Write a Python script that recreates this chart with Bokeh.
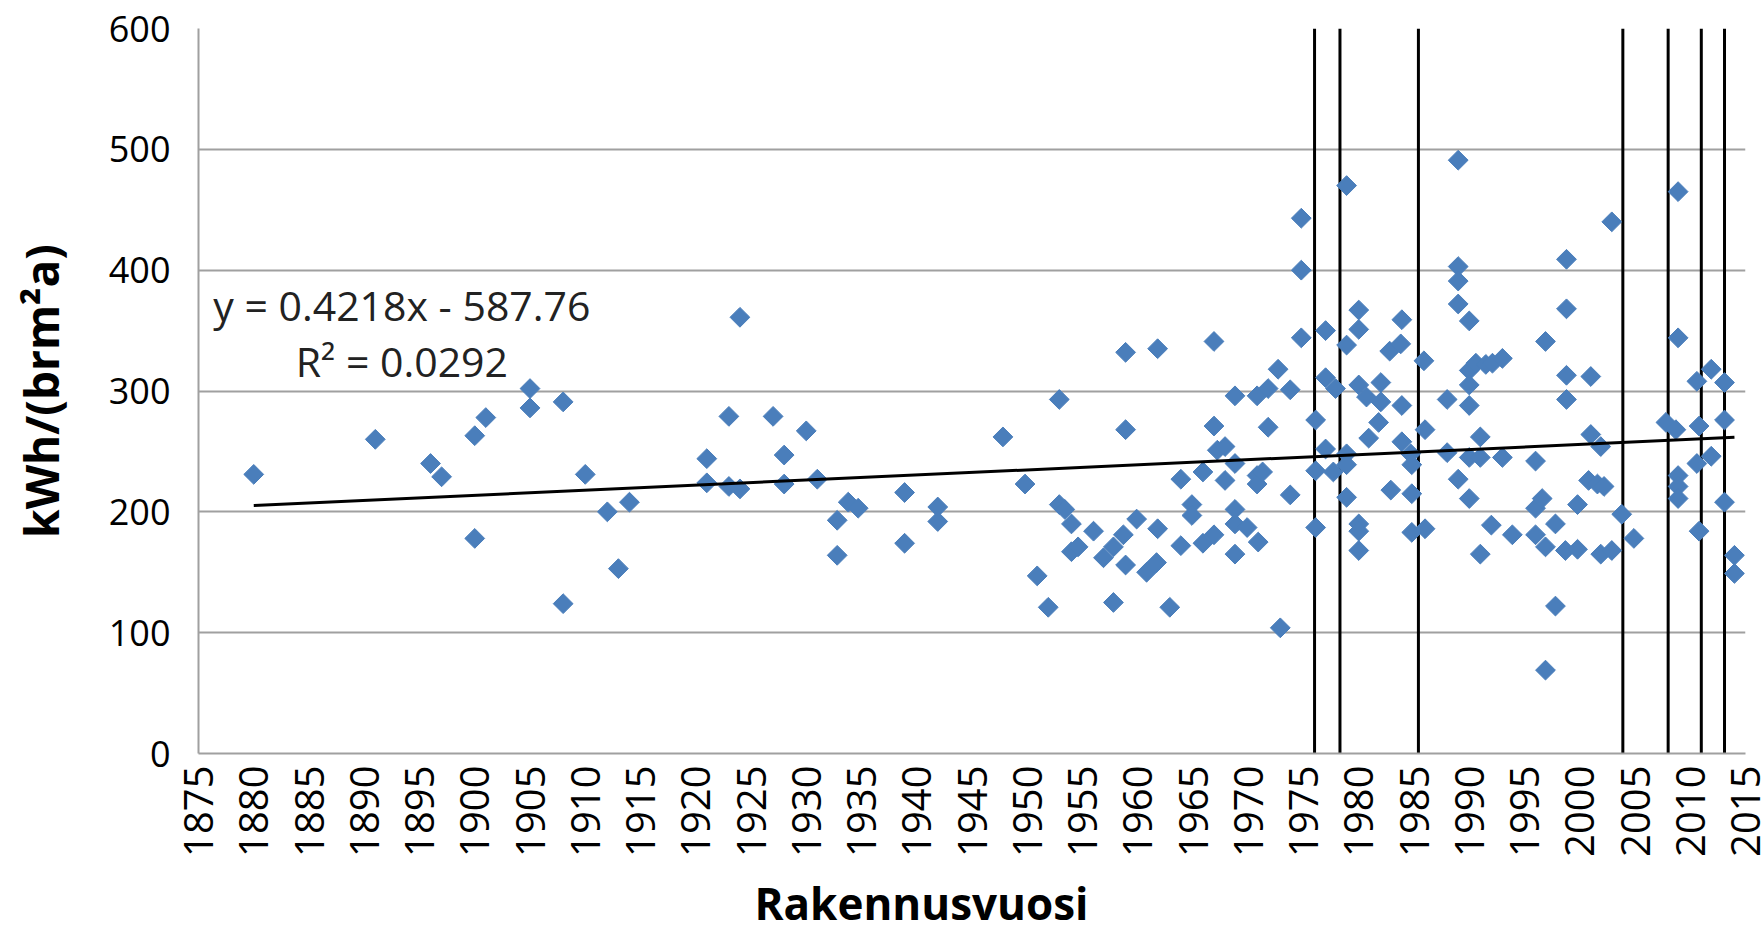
import math
from bokeh.plotting import figure
from bokeh.models import FixedTicker, Label, Range1d, Title
from bokeh.embed import file_html
from bokeh.resources import INLINE

# ---- data ----
build_year = [
    1880, 1891, 1896, 1897, 1900, 1900, 1901, 1905, 1905, 1908, 1908, 1910, 1912, 1913, 1914,
    1921, 1921, 1923, 1923, 1924, 1924, 1927, 1928, 1928, 1930, 1931, 1932.8, 1932.8, 1933.8,
    1934.7, 1938.9, 1938.9, 1941.9, 1941.9, 1947.8, 1949.8, 1950.9, 1951.9, 1952.9, 1952.9,
    1953.4, 1954, 1954, 1954.6,
    1956, 1956.9, 1957.8, 1957.8, 1958.7, 1958.9, 1958.9, 1958.9, 1959.9, 1960.8, 1961.7,
    1961.8, 1961.8, 1962.9, 1963.9, 1963.9, 1964.9, 1964.9, 1965.9, 1965.9, 1966.9, 1966.9,
    1966.9, 1967.2, 1967.9, 1967.9, 1968.8, 1968.8, 1968.8, 1968.8, 1968.8, 1969.9, 1970.8,
    1970.8, 1970.8, 1970.9, 1971.3, 1971.8, 1971.8, 1972.7, 1972.9, 1973.8, 1973.8, 1974.8,
    1974.8, 1974.8,
    1976.1, 1976.1, 1976.1, 1977, 1977, 1977, 1977.7, 1977.9, 1978.9, 1978.9, 1978.9, 1978.9,
    1978.9, 1980, 1980, 1980, 1980, 1980, 1980, 1980.7, 1980.9, 1981.8, 1982, 1982, 1982.8,
    1982.9, 1983.8, 1983.9, 1983.9, 1983.9, 1984.7, 1984.8, 1984.8, 1984.8, 1985.9, 1986, 1986,
    1988, 1988, 1989, 1989, 1989, 1989, 1989, 1990, 1990, 1990, 1990, 1990, 1990, 1990.6,
    1991, 1991, 1991, 1991.5, 1992, 1992.1, 1993, 1993, 1993.9,
    1996, 1996, 1996, 1996.6, 1996.9, 1996.9, 1996.9, 1997.8, 1997.8, 1998.7, 1998.8, 1998.8,
    1998.8, 1998.8, 1999.8, 1999.8, 2000.8, 2001, 2001, 2001.6, 2001.9, 2001.9, 2002.2, 2002.9,
    2002.9, 2003.8, 2004.9, 2007.8, 2008.7, 2008.9, 2008.9, 2008.9, 2008.9, 2008.9, 2010.6,
    2010.6, 2010.8, 2010.8, 2011.9, 2011.9, 2013.1, 2013.1, 2013.1, 2014, 2014,
]
energy_kwh = [
    231, 260, 240, 229, 263, 178, 278, 302, 286, 291, 124, 231, 200, 153, 208,
    244, 224, 279, 221, 361, 219, 279, 247, 223, 267, 227, 193, 164, 208,
    203, 216, 174, 204, 192, 262, 223, 147, 121, 293, 206,
    202, 190, 167, 171,
    184, 162, 171, 125, 181, 156, 332, 268, 194, 150, 158,
    186, 335, 121, 227, 172, 206, 197, 233, 174, 271, 181,
    341, 251, 254, 226, 296, 202, 190, 165, 240, 187, 230,
    223, 296, 175, 233, 302, 270, 318, 104, 301, 214, 443,
    400, 344,
    276, 234, 187, 350, 311, 252, 233, 302, 470, 338, 248, 239,
    212, 367, 351, 305, 190, 184, 168, 295, 261, 274, 307, 291, 333,
    218, 339, 359, 288, 258, 248, 239, 215, 183, 325, 268, 186,
    293, 249, 491, 403, 391, 372, 227, 358, 317, 305, 288, 245, 211, 323,
    262, 245, 165, 322, 189, 323, 327, 245, 181,
    242, 203, 181, 211, 341, 171, 69, 190, 122, 168, 409, 368,
    313, 293, 206, 169, 226, 312, 264, 223, 254, 165, 221, 440,
    168, 198, 178, 274, 268, 465, 344, 230, 221, 211, 308,
    240, 271, 184, 318, 246, 307, 276, 208, 164, 149,
]
trend_x = [1880, 2014]
trend_y = [205.2, 261.7]
regulation_years = [1976, 1978.3, 1985.4, 2003.9, 2008, 2011, 2013.1]
x_ticks = list(range(1875, 2016, 5))
y_ticks = [0, 100, 200, 300, 400, 500, 600]
x_title = "Rakennusvuosi"
y_title = "kWh/(brm\u00b2a)"
equation_text = "y = 0.4218x - 587.76"
r2_text = "R\u00b2 = 0.0292"

FONT = "Open Sans"
GRID = "#a0a0a0"

p = figure(width=1764, height=943, output_backend="svg", toolbar_location=None,
           x_range=Range1d(1875, 2015), y_range=Range1d(0, 600),
           min_border_left=198, min_border_right=19, min_border_top=28,
           min_border_bottom=190)
p.outline_line_color = None
p.background_fill_color = "white"
p.border_fill_color = "white"

p.xgrid.visible = False
p.ygrid.grid_line_color = GRID
p.ygrid.grid_line_width = 2
p.ygrid.ticker = FixedTicker(ticks=y_ticks)

for ax in (p.xaxis[0], p.yaxis[0]):
    ax.axis_line_color = GRID
    ax.axis_line_width = 2
    ax.major_tick_line_color = None
    ax.minor_tick_line_color = None
    ax.major_label_text_font = FONT
    ax.major_label_text_color = "black"

p.xaxis.ticker = FixedTicker(ticks=x_ticks)
p.xaxis.major_label_orientation = math.pi / 2
p.xaxis.major_label_standoff = 6
p.xaxis.major_label_text_font_size = "40px"

p.yaxis.ticker = FixedTicker(ticks=y_ticks)
p.yaxis.major_label_standoff = 22
p.yaxis.major_label_text_font_size = "36px"
p.yaxis.axis_label = y_title
p.yaxis.axis_label_text_font = FONT
p.yaxis.axis_label_text_font_size = "46px"
p.yaxis.axis_label_text_font_style = "bold"
p.yaxis.axis_label_text_color = "black"
p.yaxis.axis_label_standoff = 34

# x axis title, a little left of the plot centre as in the original
p.add_layout(Title(text=x_title, align="left", offset=556, standoff=22,
                   text_font=FONT, text_font_size="44px", text_font_style="bold",
                   text_color="black"), "below")

# regulation lines
p.segment(x0=regulation_years, y0=[0] * len(regulation_years),
          x1=regulation_years, y1=[600] * len(regulation_years),
          line_color="black", line_width=3)

# data points (diamonds)
p.scatter(build_year, energy_kwh, marker="square", angle=math.pi / 4, size=14,
          fill_color="#4A7EBB", line_color="#4A7EBB", line_width=1)

# linear trend line
p.line(trend_x, trend_y, line_color="black", line_width=3)

p.add_layout(Label(x=1893.4, y=371, text=equation_text, text_align="center",
                   text_baseline="middle", text_font=FONT, text_font_size="41px",
                   text_color="#222222"))
p.add_layout(Label(x=1893.4, y=325, text=r2_text, text_align="center",
                   text_baseline="middle", text_font=FONT, text_font_size="41px",
                   text_color="#222222"))

open("out.html", "w").write(file_html(p, INLINE))
